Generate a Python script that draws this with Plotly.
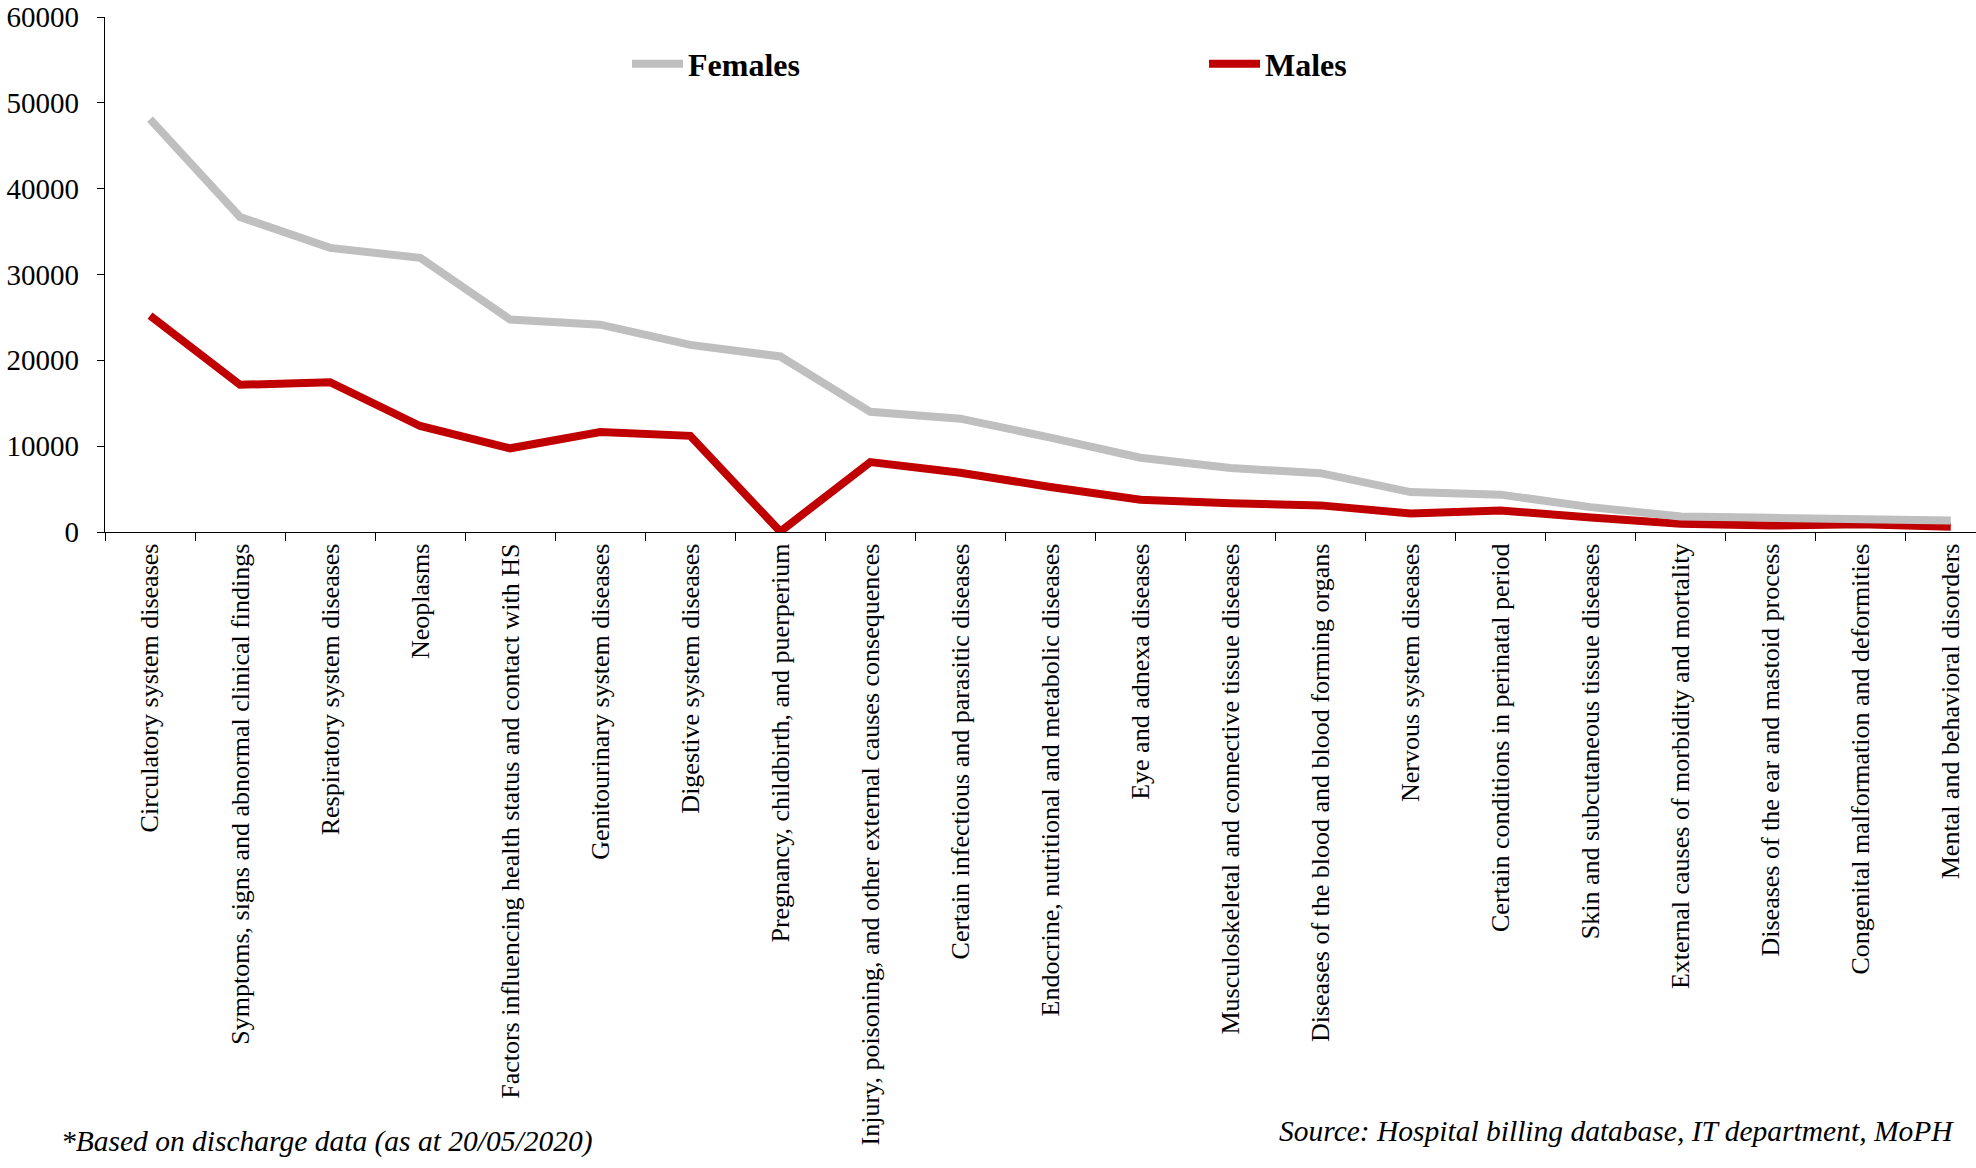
import plotly.graph_objects as go

categories = [
    "Circulatory system diseases",
    "Symptoms, signs and abnormal clinical findings",
    "Respiratory system diseases",
    "Neoplasms",
    "Factors influencing health status and contact with HS",
    "Genitourinary system diseases",
    "Digestive system diseases",
    "Pregnancy, childbirth, and puerperium",
    "Injury, poisoning, and other external causes consequences",
    "Certain infectious and parasitic diseases",
    "Endocrine, nutritional and metabolic diseases",
    "Eye and adnexa diseases",
    "Musculoskeletal and connective tissue diseases",
    "Diseases of the blood and blood forming organs",
    "Nervous system diseases",
    "Certain conditions in perinatal period",
    "Skin and subcutaneous tissue diseases",
    "External causes of morbidity and mortality",
    "Diseases of the ear and mastoid process",
    "Congenital malformation and deformities",
    "Mental and behavioral disorders",
]

females = [48100, 36700, 33100, 31950, 24750, 24150, 21800, 20450, 14000, 13200,
           11000, 8650, 7450, 6850, 4650, 4350, 2900, 1800, 1650, 1600, 1350]
males = [25200, 17150, 17450, 12350, 9750, 11650, 11200, 50, 8150, 6900,
         5250, 3750, 3350, 3100, 2150, 2500, 1700, 950, 750, 900, 600]

y_ticks = [0, 10000, 20000, 30000, 40000, 50000, 60000]

FONT = "Liberation Serif, Times New Roman, serif"

fig = go.Figure()
fig.add_trace(go.Scatter(
    x=categories, y=males, name="Males", mode="lines",
    line=dict(color="#C00000", width=8), legendrank=2,
))
fig.add_trace(go.Scatter(
    x=categories, y=females, name="Females", mode="lines",
    line=dict(color="#BFBFBF", width=8), legendrank=1,
))

fig.update_layout(
    width=1976, height=1168,
    margin=dict(l=105, r=0, t=17, b=636, autoexpand=False),
    paper_bgcolor="white", plot_bgcolor="white",
    font=dict(family=FONT, color="black", size=26),
    showlegend=True,
    legend=dict(
        orientation="h",
        x=0.279, y=0.909, xanchor="left", yanchor="middle",
        entrywidth=511, entrywidthmode="pixels",
        itemwidth=51,
        font=dict(family=FONT, size=32, color="black", weight="bold"),
        bgcolor="rgba(0,0,0,0)",
        traceorder="normal",
    ),
    xaxis=dict(
        type="category", categoryorder="array", categoryarray=categories,
        range=[-0.5, 20.28], automargin=False,
        showline=True, linecolor="black", linewidth=1.3,
        ticks="outside", ticklen=8, tickcolor="black", tickwidth=1,
        tickson="boundaries", tickangle=-90,
        showgrid=False, zeroline=False,
        tickfont=dict(family=FONT, size=26, color="black"),
    ),
    yaxis=dict(
        range=[0, 60000], tickvals=y_ticks, ticktext=[str(v) for v in y_ticks],
        automargin=False,
        showline=True, linecolor="black", linewidth=1.3,
        ticks="outside", ticklen=7, tickcolor="black", tickwidth=1,
        showgrid=False, zeroline=False,
        ticklabelstandoff=12,
        tickfont=dict(family=FONT, size=29, color="black"),
    ),
    annotations=[
        dict(text="<i>*Based on discharge data (as at 20/05/2020)</i>",
             xref="paper", yref="paper", x=-0.0246, y=-1.184,
             xanchor="left", yanchor="middle", showarrow=False,
             font=dict(family=FONT, size=29.5, color="black")),
        dict(text="<i>Source: Hospital billing database, IT department, MoPH</i>",
             xref="paper", yref="paper", x=0.9893, y=-1.164,
             xanchor="right", yanchor="middle", showarrow=False,
             font=dict(family=FONT, size=29.5, color="black")),
    ],
)

fig.write_html(
    "out.html",
    config={"displayModeBar": False},
    post_script="document.body.style.margin='0';document.body.style.overflow='hidden';",
)
